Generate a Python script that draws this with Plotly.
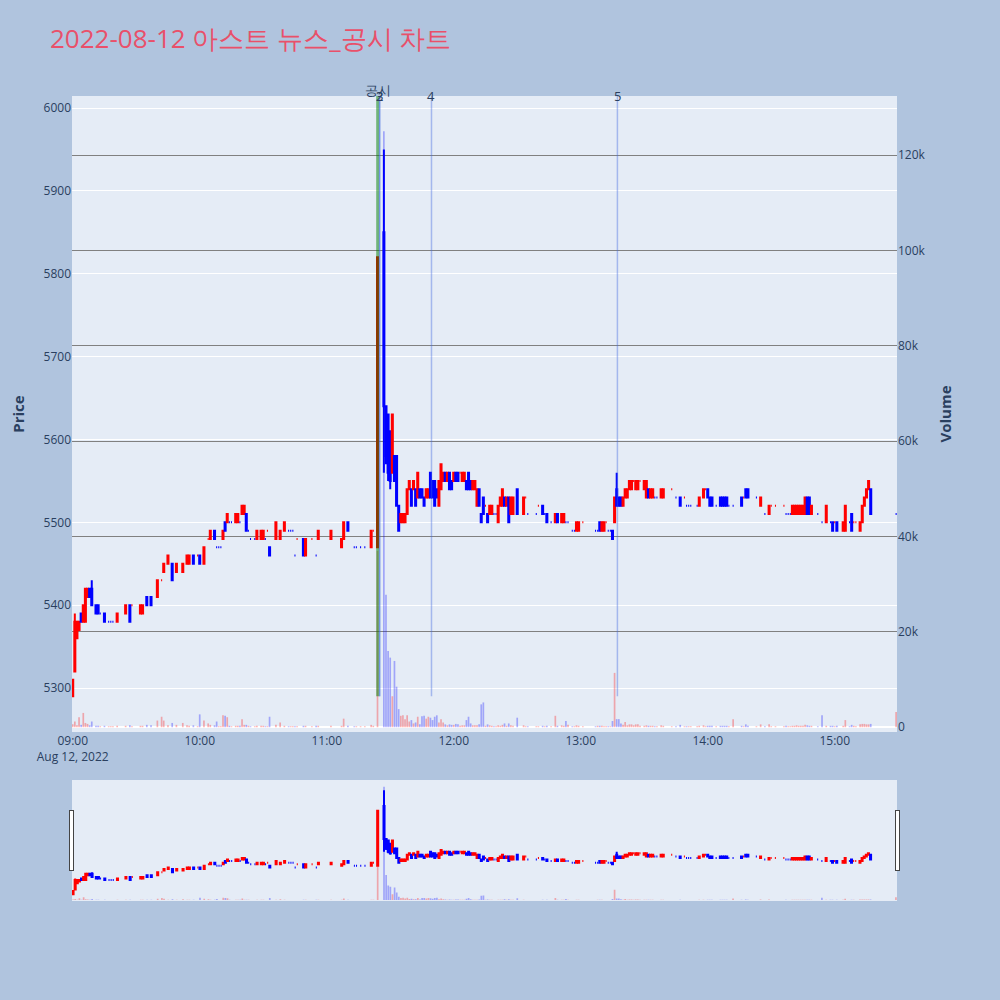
import plotly.graph_objects as go

DATE = "2022-08-12"
TITLE = "2022-08-12 아스트 뉴스_공시 차트"

times = [
    "09:00","09:01","09:02","09:03","09:04","09:05","09:06","09:07","09:08","09:09",
    "09:11","09:12","09:13","09:15","09:17","09:18","09:19","09:21","09:25","09:27",
    "09:28","09:32","09:33","09:35","09:37","09:40","09:42","09:43","09:45","09:47",
    "09:49","09:52","09:54","09:55","09:57","09:59","10:00","10:02","10:04","10:05",
    "10:07","10:08","10:09","10:10","10:11","10:12","10:13","10:14","10:15","10:17",
    "10:18","10:19","10:20","10:21","10:22","10:23","10:24","10:26","10:27","10:29",
    "10:30","10:31","10:32","10:33","10:36","10:38","10:40","10:42","10:43","10:44",
    "10:45","10:46","10:49","10:50","10:53","10:55","10:56","11:02","11:07","11:08",
    "11:10","11:13","11:14","11:16","11:18","11:21","11:22","11:24","11:27","11:28",
    "11:29","11:30","11:31","11:32","11:33","11:34","11:35","11:36","11:37","11:38",
    "11:39","11:40","11:41","11:42","11:43","11:44","11:45","11:46","11:47","11:48",
    "11:49","11:50","11:51","11:52","11:53","11:54","11:55","11:56","11:57","11:58",
    "11:59","12:00","12:01","12:02","12:03","12:04","12:05","12:06","12:07","12:08",
    "12:09","12:10","12:11","12:12","12:13","12:14","12:15","12:16","12:17","12:18",
    "12:19","12:20","12:21","12:22","12:23","12:24","12:25","12:26","12:27","12:28",
    "12:30","12:33","12:34","12:35","12:39","12:40","12:42","12:43","12:44","12:46",
    "12:48","12:49","12:51","12:52","12:53","12:54","12:56","12:57","12:58","12:59",
    "13:01","13:07","13:08","13:09","13:10","13:11","13:12","13:13","13:14","13:15",
    "13:16","13:17","13:18","13:19","13:20","13:21","13:22","13:23","13:24","13:25",
    "13:26","13:27","13:28","13:30","13:31","13:32","13:33","13:34","13:35","13:36",
    "13:38","13:39","13:43","13:45","13:47","13:49","13:50","13:51","13:52","13:55",
    "13:56","13:58","13:59","14:00","14:01","14:02","14:04","14:06","14:07","14:08",
    "14:09","14:10","14:12","14:16","14:17","14:18","14:19","14:23","14:25","14:27",
    "14:29","14:30","14:32","14:36","14:37","14:38","14:39","14:40","14:41","14:42",
    "14:43","14:44","14:45","14:46","14:47","14:48","14:49","14:52","14:54","14:56",
    "14:58","14:59","15:00","15:01","15:04","15:05","15:07","15:08","15:09","15:10",
    "15:12","15:13","15:14","15:15","15:16","15:17","15:29",
]

opens = [
    5290,5320,5360,5370,5390,5380,5380,5410,5420,5420,
    5400,5400,5390,5390,5380,5380,5380,5380,5390,5400,
    5400,5390,5390,5410,5410,5410,5430,5440,5450,5450,
    5440,5440,5450,5450,5460,5460,5460,5450,5480,5480,
    5490,5470,5470,5470,5480,5500,5500,5500,5500,5500,
    5500,5500,5510,5510,5510,5490,5480,5480,5480,5480,
    5480,5480,5490,5470,5480,5480,5490,5490,5490,5490,
    5460,5480,5480,5460,5480,5460,5480,5480,5470,5480,
    5500,5470,5470,5470,5470,5470,5490,5470,5850,5640,
    5630,5610,5560,5580,5580,5520,5500,5500,5500,5510,
    5540,5540,5540,5540,5530,5540,5540,5530,5530,5530,
    5560,5550,5550,5540,5520,5540,5550,5560,5550,5560,
    5550,5550,5560,5560,5560,5550,5550,5550,5560,5550,
    5540,5540,5520,5540,5510,5530,5520,5510,5510,5510,
    5510,5510,5500,5520,5520,5530,5520,5530,5510,5510,
    5540,5510,5530,5510,5510,5520,5520,5510,5510,5500,
    5500,5510,5500,5500,5500,5500,5490,5490,5490,5490,
    5500,5490,5490,5500,5490,5490,5500,5490,5490,5490,
    5500,5540,5530,5530,5520,5530,5530,5540,5540,5550,
    5540,5540,5550,5540,5530,5540,5530,5530,5530,5530,
    5530,5530,5540,5530,5530,5530,5520,5520,5520,5520,
    5520,5530,5540,5540,5530,5530,5520,5530,5530,5530,
    5530,5520,5520,5530,5530,5540,5540,5530,5520,5510,
    5510,5520,5520,5520,5510,5510,5510,5510,5510,5510,
    5510,5510,5510,5510,5530,5530,5510,5510,5500,5500,
    5500,5500,5500,5500,5490,5490,5500,5510,5500,5500,
    5490,5500,5520,5530,5540,5540,5510,
]

highs = [
    5310,5390,5380,5380,5390,5400,5420,5420,5420,5430,
    5400,5400,5390,5390,5380,5380,5380,5390,5400,5400,
    5400,5400,5400,5410,5410,5430,5430,5450,5460,5450,
    5450,5450,5460,5460,5460,5460,5460,5470,5480,5490,
    5490,5470,5470,5470,5490,5500,5510,5500,5500,5510,
    5510,5500,5520,5520,5510,5490,5480,5480,5490,5490,
    5490,5480,5490,5470,5500,5490,5500,5490,5490,5490,
    5460,5480,5480,5480,5480,5460,5490,5490,5480,5500,
    5500,5470,5470,5470,5470,5490,5490,5820,5950,5640,
    5630,5610,5630,5580,5580,5520,5510,5510,5510,5540,
    5550,5540,5550,5540,5560,5540,5540,5530,5540,5540,
    5560,5550,5550,5540,5550,5570,5560,5560,5560,5560,
    5550,5560,5560,5560,5560,5560,5560,5550,5560,5550,
    5550,5550,5540,5540,5510,5530,5520,5510,5520,5520,
    5510,5510,5520,5530,5540,5530,5530,5530,5530,5530,
    5540,5530,5530,5510,5510,5520,5520,5510,5510,5500,
    5510,5510,5510,5510,5500,5500,5490,5490,5500,5500,
    5500,5490,5490,5500,5500,5500,5500,5490,5490,5490,
    5530,5560,5530,5530,5530,5540,5540,5550,5550,5550,
    5550,5550,5550,5550,5550,5540,5540,5540,5530,5530,
    5540,5540,5540,5530,5530,5530,5520,5520,5520,5520,
    5530,5540,5540,5540,5530,5530,5520,5530,5530,5530,
    5530,5520,5520,5530,5530,5540,5540,5530,5530,5510,
    5520,5520,5520,5520,5510,5510,5510,5520,5520,5520,
    5520,5520,5520,5530,5530,5530,5520,5510,5500,5520,
    5500,5500,5500,5500,5500,5520,5500,5510,5500,5500,
    5500,5520,5530,5540,5550,5540,5510,
]

lows = [
    5290,5320,5360,5370,5380,5380,5380,5410,5410,5400,
    5390,5390,5390,5380,5380,5380,5380,5380,5390,5380,
    5400,5390,5390,5400,5400,5410,5430,5440,5450,5430,
    5440,5440,5450,5450,5450,5460,5450,5450,5480,5480,
    5480,5470,5470,5470,5480,5490,5500,5500,5500,5500,
    5500,5500,5510,5510,5490,5490,5480,5480,5480,5480,
    5480,5480,5490,5460,5480,5480,5490,5490,5490,5490,
    5460,5480,5460,5460,5480,5460,5480,5480,5470,5480,
    5490,5470,5470,5470,5470,5470,5490,5470,5560,5570,
    5550,5540,5560,5550,5520,5490,5500,5500,5500,5510,
    5540,5520,5540,5520,5530,5530,5530,5520,5530,5530,
    5530,5530,5520,5530,5520,5540,5550,5550,5550,5540,
    5540,5550,5550,5550,5560,5550,5550,5540,5540,5540,
    5540,5540,5520,5520,5500,5510,5520,5500,5510,5510,
    5510,5510,5500,5520,5520,5520,5520,5500,5510,5510,
    5510,5510,5530,5510,5510,5520,5510,5510,5500,5500,
    5500,5500,5500,5500,5500,5500,5490,5490,5490,5490,
    5500,5490,5490,5490,5490,5490,5500,5490,5490,5480,
    5500,5520,5520,5520,5520,5530,5530,5540,5540,5550,
    5540,5540,5550,5540,5530,5530,5530,5530,5530,5530,
    5530,5530,5540,5530,5520,5530,5520,5520,5520,5520,
    5520,5530,5540,5530,5520,5520,5520,5520,5520,5520,
    5520,5520,5520,5520,5530,5530,5530,5530,5520,5510,
    5510,5520,5520,5520,5510,5510,5510,5510,5510,5510,
    5510,5510,5510,5510,5510,5510,5510,5510,5500,5500,
    5500,5490,5500,5490,5490,5490,5500,5490,5500,5500,
    5490,5500,5520,5530,5540,5510,5510,
]

closes = [
    5310,5380,5380,5380,5380,5400,5420,5420,5410,5400,
    5390,5390,5390,5380,5380,5380,5380,5390,5400,5380,
    5400,5400,5400,5400,5400,5430,5430,5450,5460,5430,
    5450,5450,5460,5460,5450,5460,5450,5470,5480,5490,
    5480,5470,5470,5470,5490,5490,5510,5500,5500,5510,
    5510,5500,5520,5520,5490,5490,5480,5480,5490,5490,
    5490,5480,5490,5460,5500,5490,5500,5490,5490,5490,
    5460,5480,5460,5480,5480,5460,5490,5490,5480,5500,
    5490,5470,5470,5470,5470,5490,5490,5820,5640,5580,
    5560,5550,5630,5550,5520,5490,5510,5510,5510,5540,
    5550,5520,5550,5520,5560,5530,5530,5520,5540,5540,
    5530,5530,5520,5530,5550,5570,5560,5550,5560,5540,
    5540,5560,5550,5550,5560,5560,5560,5540,5540,5540,
    5550,5550,5540,5520,5500,5510,5520,5500,5520,5520,
    5510,5510,5520,5530,5540,5520,5530,5500,5530,5530,
    5510,5530,5530,5510,5510,5520,5510,5510,5500,5500,
    5510,5500,5510,5510,5500,5500,5490,5490,5500,5500,
    5500,5490,5490,5490,5500,5500,5500,5490,5490,5480,
    5530,5520,5520,5520,5530,5540,5540,5550,5550,5550,
    5550,5550,5550,5550,5550,5530,5540,5540,5530,5530,
    5540,5540,5540,5530,5520,5530,5520,5520,5520,5520,
    5530,5540,5540,5530,5520,5520,5520,5520,5520,5520,
    5520,5520,5520,5520,5530,5530,5530,5530,5530,5510,
    5520,5520,5520,5520,5510,5510,5510,5520,5520,5520,
    5520,5520,5520,5530,5510,5510,5520,5510,5500,5520,
    5500,5490,5500,5490,5500,5520,5500,5490,5500,5500,
    5500,5520,5530,5540,5550,5510,5510,
]

volumes = [
    630,1200,400,2100,500,3000,900,700,400,1200,
    300,300,200,300,200,200,200,300,300,400,
    200,300,300,500,400,1400,2200,1400,400,900,
    500,900,400,300,400,200,2700,1400,800,500,
    400,1200,200,200,2500,2400,2100,300,200,300,
    300,300,1700,500,500,300,200,200,300,300,
    300,200,200,2200,500,1000,300,200,200,200,
    200,200,300,300,200,300,300,300,300,1800,
    300,200,200,200,200,500,300,37000,125000,27800,
    16000,14600,6500,13900,8500,3800,2400,2500,1700,2500,
    1200,1500,800,1000,2200,600,2300,2400,1800,2200,
    2000,1500,2200,2500,1000,1700,1000,600,400,600,
    500,500,700,600,300,400,400,1500,2200,800,
    400,400,400,600,4800,5200,300,600,400,300,
    200,200,400,300,500,800,300,800,400,300,
    2000,400,200,200,200,200,300,200,300,200,
    2400,300,400,300,1300,500,200,200,400,300,
    200,200,300,300,300,200,200,200,200,1300,
    11400,1700,1700,800,500,1100,400,600,600,400,
    600,600,300,300,400,300,300,300,200,200,
    400,300,200,200,500,200,200,200,200,200,
    300,400,200,300,300,300,200,300,300,300,
    300,200,1700,300,200,600,300,200,600,200,
    600,200,200,200,300,200,200,300,300,400,
    300,300,300,500,400,300,300,200,2500,300,
    300,300,200,300,300,1500,200,500,300,200,
    600,700,700,600,600,700,3200,
]

# news / disclosure markers: label, time
marker_labels = ["공시", "3", "2", "4", "5"]
marker_times = ["11:24:05", "11:25:00", "11:25:00", "11:49:30", "13:17:20"]
marker_colors = ["green", "royalblue", "royalblue", "royalblue", "royalblue"]

x = [f"{DATE} {t}" for t in times]

vol_colors = []
prev_c = None
for o, c in zip(opens, closes):
    up = c > o or (c == o and prev_c is not None and c >= prev_c)
    vol_colors.append("rgba(255,0,0,0.3)" if up else "rgba(0,0,255,0.3)")
    prev_c = c

fig = go.Figure()
fig.add_trace(go.Candlestick(
    x=x, open=opens, high=highs, low=lows, close=closes,
    increasing=dict(line=dict(color="red", width=2), fillcolor="red"),
    decreasing=dict(line=dict(color="blue", width=2), fillcolor="blue"),
    name="Price", yaxis="y", showlegend=False,
))
fig.add_trace(go.Bar(
    x=x, y=volumes, marker=dict(color=vol_colors, line=dict(width=0)),
    name="Volume", yaxis="y2", showlegend=False,
))

for lab, t, col in zip(marker_labels, marker_times, marker_colors):
    xt = f"{DATE} {t}"
    fig.add_shape(type="line", xref="x", yref="y", x0=xt, x1=xt, y0=5290, y1=6014.5,
                  line=dict(color=col, width=3 if col == "green" else 1.5),
                  opacity=0.5 if col == "green" else 0.4)
    fig.add_annotation(x=xt, xref="x", y=1, yref="paper", text=lab, showarrow=False,
                       yanchor="middle", yshift=6 if lab == "공시" else 0,
                       font=dict(size=13, color="#2a3f5f"))

fig.update_layout(
    template="plotly",
    width=1000, height=1000,
    paper_bgcolor="#B0C4DE",
    plot_bgcolor="#E5ECF6",
    margin=dict(l=72, r=103, t=96, b=100),
    title=dict(text=TITLE, x=0.05, xanchor="left", font=dict(size=26, color="#E9506A")),
    showlegend=False,
    xaxis=dict(type="date", range=[f"{DATE} 08:59:40", f"{DATE} 15:29:25"],
               rangeslider=dict(visible=True, bgcolor="#E5ECF6")),
    yaxis=dict(title=dict(text="<b>Price</b>", font=dict(size=15)), range=[5247, 6014.5], side="left"),
    yaxis2=dict(title=dict(text="<b>Volume</b>", font=dict(size=15)), overlaying="y", side="right",
                range=[-1000, 132400], gridcolor="gray", showgrid=True),
)

fig.write_html("out.html", config={"displayModeBar": False},
               post_script="document.body.style.margin='0';")
